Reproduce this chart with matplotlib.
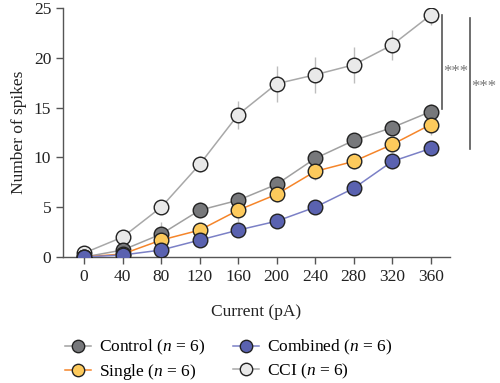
import matplotlib
matplotlib.use("Agg")
import matplotlib.pyplot as plt

current = [0, 40, 80, 120, 160, 200, 240, 280, 320, 360]
control = [0.0, 0.7, 2.3, 4.7, 5.7, 7.3, 9.9, 11.7, 13.0, 14.6]
control_err = [0.1, 0.5, 1.2, 0.8, 0.8, 0.8, 0.6, 0.6, 0.6, 0.8]
single = [0.0, 0.3, 1.7, 2.7, 4.7, 6.3, 8.6, 9.6, 11.3, 13.3]
single_err = [0.1, 0.3, 0.6, 0.6, 1.2, 0.8, 0.9, 0.8, 0.8, 1.0]
combined = [0.0, 0.2, 0.7, 1.7, 2.7, 3.6, 5.0, 6.9, 9.6, 10.9]
combined_err = [0.1, 0.2, 0.4, 0.4, 0.5, 0.5, 0.5, 0.5, 0.8, 0.5]
cci = [0.4, 2.0, 5.0, 9.3, 14.3, 17.4, 18.3, 19.3, 21.3, 24.3]
cci_err = [0.2, 0.4, 0.6, 0.8, 1.4, 1.8, 1.8, 1.8, 1.5, 1.0]
labels = ["Control", "Single", "Combined", "CCI"]

plt.rcParams['font.family'] = ['Liberation Serif', 'DejaVu Serif']
plt.rcParams['mathtext.fontset'] = 'custom'
plt.rcParams['mathtext.rm'] = 'Liberation Serif'
plt.rcParams['mathtext.it'] = 'Liberation Serif:italic'

fig = plt.figure(figsize=(5, 3.83), dpi=100)
ax = fig.add_axes([0.126, 0.329, 0.774, 0.65])

styles = [
    (control, control_err, "#a0a0a0", "#77787b", labels[0]),
    (single, single_err, "#f5852a", "#fdca5c", labels[1]),
    (combined, combined_err, "#7b80c6", "#5a62b0", labels[2]),
    (cci, cci_err, "#a8a8a8", "#e9e9e9", labels[3]),
]
handles = {}
for vals, err, lc, fc, lab in styles[::-1]:
    ax.errorbar(current, vals, yerr=err, fmt='none', ecolor='#bdbdbd',
                elinewidth=1.0, capsize=0, zorder=2)
for vals, err, lc, fc, lab in [styles[3], styles[0], styles[1], styles[2]]:
    h, = ax.plot(current, vals, '-o', color=lc, lw=1.1, markersize=10.5,
                 markerfacecolor=fc, markeredgecolor='#222222',
                 markeredgewidth=1.0, zorder=3)
    handles[lab] = h

ax.set_xlim(-22, 380)
ax.set_ylim(0, 25)
ax.set_xticks(current)
ax.set_yticks([0, 5, 10, 15, 20, 25])
for s in ['top', 'right']:
    ax.spines[s].set_visible(False)
for s in ['left', 'bottom']:
    ax.spines[s].set_color('#555555')
    ax.spines[s].set_linewidth(1.0)
ax.tick_params(axis='both', colors='#555555', labelcolor='#222222',
               labelsize=12.5, length=5, width=1.0, direction='out')
ax.tick_params(axis='x', pad=4)
ax.set_xlabel("Current (pA)", fontsize=12.5, color='#222222', labelpad=13)
ax.set_ylabel("Number of spikes", fontsize=12.5, color='#222222', labelpad=5)

# significance brackets
ax.plot([372, 372], [14.9, 24.3], color='#555555', lw=1.2, clip_on=False)
ax.text(373, 18.6, "***", fontsize=12, color='#777777', va='center', ha='left')
ax.plot([401, 401], [10.8, 24.0], color='#555555', lw=1.2, clip_on=False)
ax.text(402, 17.1, "***", fontsize=12, color='#777777', va='center', ha='left')

order = ["Control", "Single", "Combined", "CCI"]
fig.legend([handles[k] for k in order],
           [f"{k} ($n$ = 6)" for k in order],
           loc='upper left', bbox_to_anchor=(0.13, 0.117), ncol=2,
           frameon=False, fontsize=12.5, handlelength=1.5, markerscale=0.85,
           columnspacing=1.6, labelspacing=0.25, handletextpad=0.45,
           borderaxespad=0, borderpad=0)

fig.savefig("out.png", dpi=100)
